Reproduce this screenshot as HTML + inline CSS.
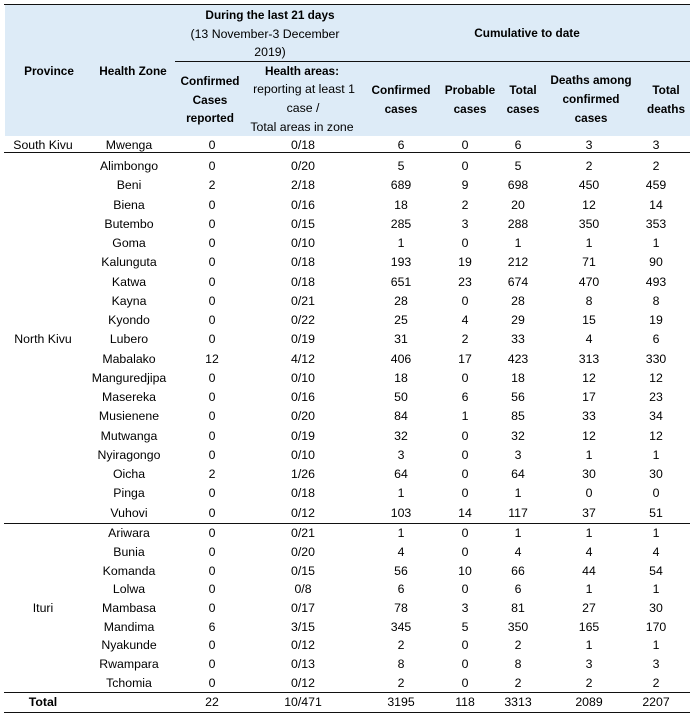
<!DOCTYPE html>
<html><head><meta charset="utf-8">
<style>
html,body{margin:0;padding:0;background:#fff;}
body{width:696px;height:717px;position:relative;overflow:hidden;font-family:"Liberation Sans",Arial,sans-serif;color:#000;}
.bg{position:absolute;left:5px;top:5px;width:685px;height:131px;background:#DDEBF7;}
.ln{position:absolute;height:1px;background:#111;}
.c{position:absolute;width:160px;margin-left:-80px;height:18px;line-height:18px;margin-top:-9px;text-align:center;white-space:nowrap;font-size:12.3px;}
.b{font-weight:bold;font-size:11.8px;}
</style></head><body>
<div class="bg"></div>
<div class="ln" style="left:4px;width:686px;top:4px"></div>
<div class="ln" style="left:175px;width:515px;top:61px"></div>
<div class="ln" style="left:4px;width:686px;top:152px"></div>
<div class="ln" style="left:4px;width:686px;top:523px"></div>
<div class="ln" style="left:4px;width:686px;top:692px"></div>
<div class="ln" style="left:4px;width:686px;top:712px"></div>

<!-- header -->
<div class="c b" style="left:49px;top:71px">Province</div>
<div class="c b" style="left:133px;top:71px">Health Zone</div>
<div class="c b" style="left:270px;top:15px">During the last 21 days</div>
<div class="c" style="left:265px;top:34px">(13 November-3 December</div>
<div class="c" style="left:270px;top:52px">2019)</div>
<div class="c b" style="left:210px;top:81px">Confirmed</div>
<div class="c b" style="left:210px;top:100px">Cases</div>
<div class="c b" style="left:210px;top:118px">reported</div>
<div class="c b" style="left:302px;top:71px">Health areas:</div>
<div class="c" style="left:304px;top:89px">reporting at least 1</div>
<div class="c" style="left:303px;top:108px">case /</div>
<div class="c" style="left:302px;top:127px">Total areas in zone</div>
<div class="c b" style="left:527px;top:33px">Cumulative to date</div>
<div class="c b" style="left:401px;top:90px">Confirmed</div>
<div class="c b" style="left:401px;top:109px">cases</div>
<div class="c b" style="left:470px;top:90px">Probable</div>
<div class="c b" style="left:470px;top:109px">cases</div>
<div class="c b" style="left:523px;top:90px">Total</div>
<div class="c b" style="left:523px;top:109px">cases</div>
<div class="c b" style="left:591px;top:80px">Deaths among</div>
<div class="c b" style="left:591px;top:99px">confirmed</div>
<div class="c b" style="left:591px;top:118px">cases</div>
<div class="c b" style="left:666px;top:90px">Total</div>
<div class="c b" style="left:666px;top:109px">deaths</div>

<div id="rows"></div>
<!-- South Kivu -->
<div class="c" style="left:43px;top:145px">South Kivu</div>
<div class="c" style="left:129px;top:145px">Mwenga</div><div class="c" style="left:212px;top:145px">0</div><div class="c" style="left:303px;top:145px">0/18</div><div class="c" style="left:401px;top:145px">6</div><div class="c" style="left:465px;top:145px">0</div><div class="c" style="left:518px;top:145px">6</div><div class="c" style="left:589px;top:145px">3</div><div class="c" style="left:656px;top:145px">3</div>

<!-- North Kivu -->
<div class="c" style="left:43px;top:339px">North Kivu</div>
<div class="c" style="left:129px;top:166px">Alimbongo</div><div class="c" style="left:212px;top:166px">0</div><div class="c" style="left:303px;top:166px">0/20</div><div class="c" style="left:401px;top:166px">5</div><div class="c" style="left:465px;top:166px">0</div><div class="c" style="left:518px;top:166px">5</div><div class="c" style="left:589px;top:166px">2</div><div class="c" style="left:656px;top:166px">2</div>
<div class="c" style="left:129px;top:185px">Beni</div><div class="c" style="left:212px;top:185px">2</div><div class="c" style="left:303px;top:185px">2/18</div><div class="c" style="left:401px;top:185px">689</div><div class="c" style="left:465px;top:185px">9</div><div class="c" style="left:518px;top:185px">698</div><div class="c" style="left:589px;top:185px">450</div><div class="c" style="left:656px;top:185px">459</div>
<div class="c" style="left:129px;top:205px">Biena</div><div class="c" style="left:212px;top:205px">0</div><div class="c" style="left:303px;top:205px">0/16</div><div class="c" style="left:401px;top:205px">18</div><div class="c" style="left:465px;top:205px">2</div><div class="c" style="left:518px;top:205px">20</div><div class="c" style="left:589px;top:205px">12</div><div class="c" style="left:656px;top:205px">14</div>
<div class="c" style="left:129px;top:224px">Butembo</div><div class="c" style="left:212px;top:224px">0</div><div class="c" style="left:303px;top:224px">0/15</div><div class="c" style="left:401px;top:224px">285</div><div class="c" style="left:465px;top:224px">3</div><div class="c" style="left:518px;top:224px">288</div><div class="c" style="left:589px;top:224px">350</div><div class="c" style="left:656px;top:224px">353</div>
<div class="c" style="left:129px;top:243px">Goma</div><div class="c" style="left:212px;top:243px">0</div><div class="c" style="left:303px;top:243px">0/10</div><div class="c" style="left:401px;top:243px">1</div><div class="c" style="left:465px;top:243px">0</div><div class="c" style="left:518px;top:243px">1</div><div class="c" style="left:589px;top:243px">1</div><div class="c" style="left:656px;top:243px">1</div>
<div class="c" style="left:129px;top:262px">Kalunguta</div><div class="c" style="left:212px;top:262px">0</div><div class="c" style="left:303px;top:262px">0/18</div><div class="c" style="left:401px;top:262px">193</div><div class="c" style="left:465px;top:262px">19</div><div class="c" style="left:518px;top:262px">212</div><div class="c" style="left:589px;top:262px">71</div><div class="c" style="left:656px;top:262px">90</div>
<div class="c" style="left:129px;top:282px">Katwa</div><div class="c" style="left:212px;top:282px">0</div><div class="c" style="left:303px;top:282px">0/18</div><div class="c" style="left:401px;top:282px">651</div><div class="c" style="left:465px;top:282px">23</div><div class="c" style="left:518px;top:282px">674</div><div class="c" style="left:589px;top:282px">470</div><div class="c" style="left:656px;top:282px">493</div>
<div class="c" style="left:129px;top:301px">Kayna</div><div class="c" style="left:212px;top:301px">0</div><div class="c" style="left:303px;top:301px">0/21</div><div class="c" style="left:401px;top:301px">28</div><div class="c" style="left:465px;top:301px">0</div><div class="c" style="left:518px;top:301px">28</div><div class="c" style="left:589px;top:301px">8</div><div class="c" style="left:656px;top:301px">8</div>
<div class="c" style="left:129px;top:320px">Kyondo</div><div class="c" style="left:212px;top:320px">0</div><div class="c" style="left:303px;top:320px">0/22</div><div class="c" style="left:401px;top:320px">25</div><div class="c" style="left:465px;top:320px">4</div><div class="c" style="left:518px;top:320px">29</div><div class="c" style="left:589px;top:320px">15</div><div class="c" style="left:656px;top:320px">19</div>
<div class="c" style="left:129px;top:339px">Lubero</div><div class="c" style="left:212px;top:339px">0</div><div class="c" style="left:303px;top:339px">0/19</div><div class="c" style="left:401px;top:339px">31</div><div class="c" style="left:465px;top:339px">2</div><div class="c" style="left:518px;top:339px">33</div><div class="c" style="left:589px;top:339px">4</div><div class="c" style="left:656px;top:339px">6</div>
<div class="c" style="left:129px;top:359px">Mabalako</div><div class="c" style="left:212px;top:359px">12</div><div class="c" style="left:303px;top:359px">4/12</div><div class="c" style="left:401px;top:359px">406</div><div class="c" style="left:465px;top:359px">17</div><div class="c" style="left:518px;top:359px">423</div><div class="c" style="left:589px;top:359px">313</div><div class="c" style="left:656px;top:359px">330</div>
<div class="c" style="left:129px;top:378px">Manguredjipa</div><div class="c" style="left:212px;top:378px">0</div><div class="c" style="left:303px;top:378px">0/10</div><div class="c" style="left:401px;top:378px">18</div><div class="c" style="left:465px;top:378px">0</div><div class="c" style="left:518px;top:378px">18</div><div class="c" style="left:589px;top:378px">12</div><div class="c" style="left:656px;top:378px">12</div>
<div class="c" style="left:129px;top:397px">Masereka</div><div class="c" style="left:212px;top:397px">0</div><div class="c" style="left:303px;top:397px">0/16</div><div class="c" style="left:401px;top:397px">50</div><div class="c" style="left:465px;top:397px">6</div><div class="c" style="left:518px;top:397px">56</div><div class="c" style="left:589px;top:397px">17</div><div class="c" style="left:656px;top:397px">23</div>
<div class="c" style="left:129px;top:416px">Musienene</div><div class="c" style="left:212px;top:416px">0</div><div class="c" style="left:303px;top:416px">0/20</div><div class="c" style="left:401px;top:416px">84</div><div class="c" style="left:465px;top:416px">1</div><div class="c" style="left:518px;top:416px">85</div><div class="c" style="left:589px;top:416px">33</div><div class="c" style="left:656px;top:416px">34</div>
<div class="c" style="left:129px;top:436px">Mutwanga</div><div class="c" style="left:212px;top:436px">0</div><div class="c" style="left:303px;top:436px">0/19</div><div class="c" style="left:401px;top:436px">32</div><div class="c" style="left:465px;top:436px">0</div><div class="c" style="left:518px;top:436px">32</div><div class="c" style="left:589px;top:436px">12</div><div class="c" style="left:656px;top:436px">12</div>
<div class="c" style="left:129px;top:455px">Nyiragongo</div><div class="c" style="left:212px;top:455px">0</div><div class="c" style="left:303px;top:455px">0/10</div><div class="c" style="left:401px;top:455px">3</div><div class="c" style="left:465px;top:455px">0</div><div class="c" style="left:518px;top:455px">3</div><div class="c" style="left:589px;top:455px">1</div><div class="c" style="left:656px;top:455px">1</div>
<div class="c" style="left:129px;top:474px">Oicha</div><div class="c" style="left:212px;top:474px">2</div><div class="c" style="left:303px;top:474px">1/26</div><div class="c" style="left:401px;top:474px">64</div><div class="c" style="left:465px;top:474px">0</div><div class="c" style="left:518px;top:474px">64</div><div class="c" style="left:589px;top:474px">30</div><div class="c" style="left:656px;top:474px">30</div>
<div class="c" style="left:129px;top:493px">Pinga</div><div class="c" style="left:212px;top:493px">0</div><div class="c" style="left:303px;top:493px">0/18</div><div class="c" style="left:401px;top:493px">1</div><div class="c" style="left:465px;top:493px">0</div><div class="c" style="left:518px;top:493px">1</div><div class="c" style="left:589px;top:493px">0</div><div class="c" style="left:656px;top:493px">0</div>
<div class="c" style="left:129px;top:513px">Vuhovi</div><div class="c" style="left:212px;top:513px">0</div><div class="c" style="left:303px;top:513px">0/12</div><div class="c" style="left:401px;top:513px">103</div><div class="c" style="left:465px;top:513px">14</div><div class="c" style="left:518px;top:513px">117</div><div class="c" style="left:589px;top:513px">37</div><div class="c" style="left:656px;top:513px">51</div>

<!-- Ituri -->
<div class="c" style="left:43px;top:608px">Ituri</div>
<div class="c" style="left:129px;top:533px">Ariwara</div><div class="c" style="left:212px;top:533px">0</div><div class="c" style="left:303px;top:533px">0/21</div><div class="c" style="left:401px;top:533px">1</div><div class="c" style="left:465px;top:533px">0</div><div class="c" style="left:518px;top:533px">1</div><div class="c" style="left:589px;top:533px">1</div><div class="c" style="left:656px;top:533px">1</div>
<div class="c" style="left:129px;top:552px">Bunia</div><div class="c" style="left:212px;top:552px">0</div><div class="c" style="left:303px;top:552px">0/20</div><div class="c" style="left:401px;top:552px">4</div><div class="c" style="left:465px;top:552px">0</div><div class="c" style="left:518px;top:552px">4</div><div class="c" style="left:589px;top:552px">4</div><div class="c" style="left:656px;top:552px">4</div>
<div class="c" style="left:129px;top:571px">Komanda</div><div class="c" style="left:212px;top:571px">0</div><div class="c" style="left:303px;top:571px">0/15</div><div class="c" style="left:401px;top:571px">56</div><div class="c" style="left:465px;top:571px">10</div><div class="c" style="left:518px;top:571px">66</div><div class="c" style="left:589px;top:571px">44</div><div class="c" style="left:656px;top:571px">54</div>
<div class="c" style="left:129px;top:589px">Lolwa</div><div class="c" style="left:212px;top:589px">0</div><div class="c" style="left:303px;top:589px">0/8</div><div class="c" style="left:401px;top:589px">6</div><div class="c" style="left:465px;top:589px">0</div><div class="c" style="left:518px;top:589px">6</div><div class="c" style="left:589px;top:589px">1</div><div class="c" style="left:656px;top:589px">1</div>
<div class="c" style="left:129px;top:608px">Mambasa</div><div class="c" style="left:212px;top:608px">0</div><div class="c" style="left:303px;top:608px">0/17</div><div class="c" style="left:401px;top:608px">78</div><div class="c" style="left:465px;top:608px">3</div><div class="c" style="left:518px;top:608px">81</div><div class="c" style="left:589px;top:608px">27</div><div class="c" style="left:656px;top:608px">30</div>
<div class="c" style="left:129px;top:627px">Mandima</div><div class="c" style="left:212px;top:627px">6</div><div class="c" style="left:303px;top:627px">3/15</div><div class="c" style="left:401px;top:627px">345</div><div class="c" style="left:465px;top:627px">5</div><div class="c" style="left:518px;top:627px">350</div><div class="c" style="left:589px;top:627px">165</div><div class="c" style="left:656px;top:627px">170</div>
<div class="c" style="left:129px;top:645px">Nyakunde</div><div class="c" style="left:212px;top:645px">0</div><div class="c" style="left:303px;top:645px">0/12</div><div class="c" style="left:401px;top:645px">2</div><div class="c" style="left:465px;top:645px">0</div><div class="c" style="left:518px;top:645px">2</div><div class="c" style="left:589px;top:645px">1</div><div class="c" style="left:656px;top:645px">1</div>
<div class="c" style="left:129px;top:664px">Rwampara</div><div class="c" style="left:212px;top:664px">0</div><div class="c" style="left:303px;top:664px">0/13</div><div class="c" style="left:401px;top:664px">8</div><div class="c" style="left:465px;top:664px">0</div><div class="c" style="left:518px;top:664px">8</div><div class="c" style="left:589px;top:664px">3</div><div class="c" style="left:656px;top:664px">3</div>
<div class="c" style="left:129px;top:683px">Tchomia</div><div class="c" style="left:212px;top:683px">0</div><div class="c" style="left:303px;top:683px">0/12</div><div class="c" style="left:401px;top:683px">2</div><div class="c" style="left:465px;top:683px">0</div><div class="c" style="left:518px;top:683px">2</div><div class="c" style="left:589px;top:683px">2</div><div class="c" style="left:656px;top:683px">2</div>

<!-- Total -->
<div class="c b" style="left:43px;top:702px;font-size:12.3px">Total</div>
<div class="c" style="left:212px;top:702px">22</div><div class="c" style="left:303px;top:702px">10/471</div><div class="c" style="left:401px;top:702px">3195</div><div class="c" style="left:465px;top:702px">118</div><div class="c" style="left:518px;top:702px">3313</div><div class="c" style="left:589px;top:702px">2089</div><div class="c" style="left:656px;top:702px">2207</div>
</body></html>
